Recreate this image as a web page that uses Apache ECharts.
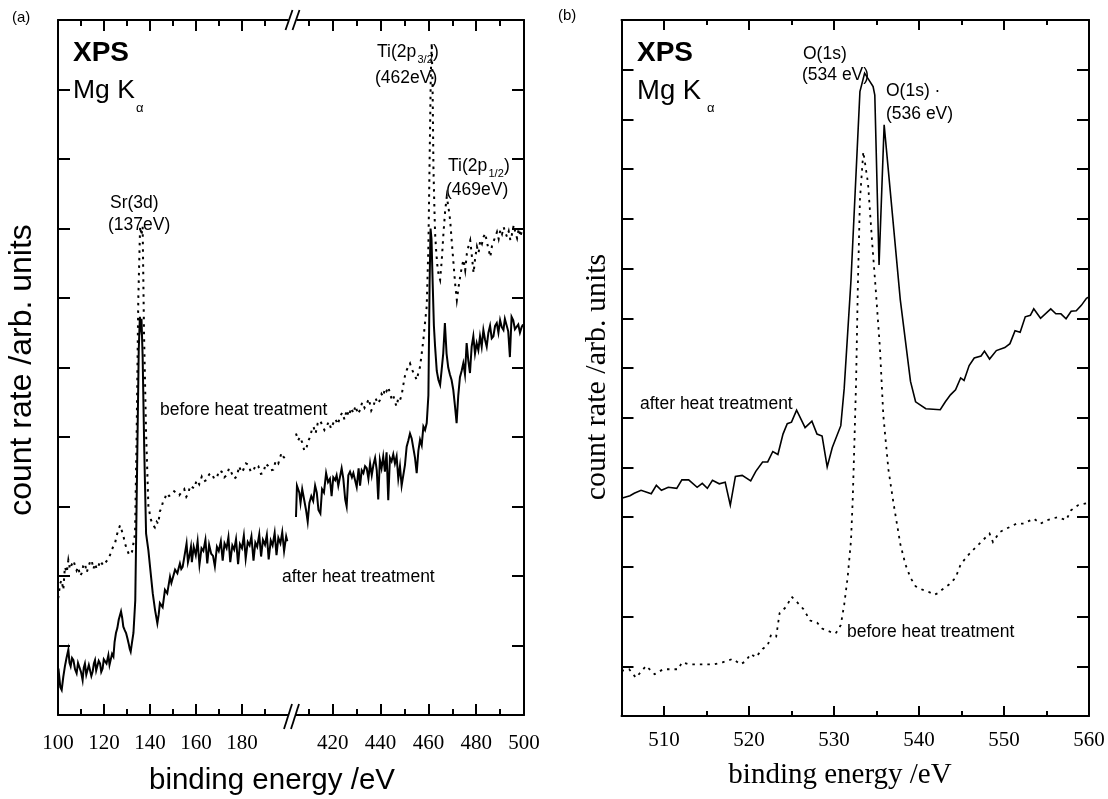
<!DOCTYPE html>
<html>
<head>
<meta charset="utf-8">
<script src="https://cdn.jsdelivr.net/npm/echarts@6/dist/echarts.min.js"></script>
<style>
html,body{margin:0;padding:0;background:#fff;}
#chart{width:1108px;height:799px;}
</style>
</head>
<body>
<div id="chart"></div>
<script>
// ---------------- DATA ----------------
// Panel (a), low-energy segment (100-200 eV): [binding energy eV, count rate arb.]
const aAfterLow = [[100.0,0.55],[100.4,0.60],[101.0,0.40],[101.6,0.36],[102.3,0.55],[103.0,0.70],[103.7,0.82],[104.5,0.94],[105.0,0.75],[105.5,0.70],[106.1,0.82],[106.7,0.79],[107.4,0.66],[108.1,0.60],[108.7,0.75],[109.3,0.74],[110.0,0.62],[110.7,0.50],[111.2,0.68],[111.7,0.74],[112.3,0.58],[112.8,0.60],[113.4,0.72],[113.9,0.70],[114.5,0.56],[115.1,0.63],[115.6,0.74],[116.1,0.79],[116.6,0.64],[117.1,0.65],[117.7,0.78],[118.3,0.74],[118.8,0.62],[119.4,0.67],[119.9,0.80],[120.4,0.81],[121.1,0.74],[121.9,0.86],[122.4,0.72],[122.9,0.74],[123.5,0.88],[124.1,0.84],[124.6,1.05],[125.2,1.18],[125.8,1.25],[126.4,1.37],[127.4,1.49],[127.9,1.40],[128.4,1.27],[129.0,1.22],[129.6,1.18],[130.2,1.10],[130.7,1.03],[131.2,0.95],[131.6,0.91],[132.2,1.05],[132.8,1.18],[133.6,1.65],[134.2,3.09],[135.1,5.25],[135.6,5.73],[135.9,5.60],[136.3,5.70],[136.8,5.16],[137.5,3.81],[138.3,2.61],[139.3,2.37],[140.3,2.04],[141.2,1.75],[142.2,1.51],[143.2,1.32],[143.8,1.45],[144.3,1.61],[145.5,1.55],[146.5,1.80],[147.5,1.75],[148.7,1.99],[149.3,1.90],[149.9,1.89],[150.9,2.09],[151.9,2.04],[152.5,2.12],[153.0,2.18],[153.6,2.10],[154.2,2.13],[155.2,2.33],[155.9,2.47],[156.5,2.20],[157.0,2.27],[157.8,2.42],
[158.2,2.20],[159.0,2.42],[159.9,2.30],[160.7,2.50],[161.5,2.16],[162.4,2.40],[163.2,2.36],[164.1,2.52],[164.9,2.18],[165.7,2.45],[166.6,2.32],[167.4,2.29],[168.2,2.14],[169.1,2.42],[169.9,2.36],[170.8,2.50],[171.6,2.22],[172.4,2.47],[173.3,2.40],[174.1,2.56],[174.9,2.20],[175.8,2.44],[176.6,2.38],[177.4,2.53],[178.3,2.17],[179.1,2.46],[180.0,2.40],[180.8,2.58],[181.6,2.25],[182.5,2.49],[183.3,2.44],[184.1,2.57],[185.0,2.22],[185.8,2.48],[186.6,2.42],[187.5,2.60],[188.3,2.28],[189.1,2.52],[190.0,2.45],[190.8,2.59],[191.6,2.24],[192.5,2.51],[193.3,2.44],[194.2,2.62],[195.0,2.30],[195.8,2.55],[196.7,2.47],[197.5,2.63],[198.3,2.36],[199.2,2.57],[199.7,2.50]];

const aBeforeLow = [[100.1,1.68],[100.9,1.89],[101.6,1.94],[102.3,1.80],[103.0,2.13],[103.8,2.05],[104.5,2.23],[105.2,2.10],[105.9,2.16],[106.7,2.22],[107.4,2.20],[108.1,2.08],[108.8,2.13],[109.6,2.00],[110.3,2.04],[111.0,2.15],[111.7,2.18],[112.5,2.05],[113.2,2.13],[113.9,2.20],[114.6,2.23],[115.4,2.10],[116.1,2.18],[116.8,2.10],[117.5,2.13],[118.3,2.22],[119.0,2.23],[119.7,2.15],[120.4,2.18],[121.2,2.20],[121.9,2.25],[122.6,2.30],[123.3,2.37],[124.0,2.42],[124.8,2.47],[125.5,2.58],[126.2,2.66],[127.0,2.73],[127.5,2.68],[128.1,2.61],[128.6,2.55],[129.1,2.47],[129.8,2.40],[130.6,2.33],[131.1,2.30],[131.6,2.28],[132.2,2.35],[132.8,2.37],[133.5,2.61],[134.2,4.05],[134.9,5.97],[135.7,7.03],[136.3,6.90],[136.8,7.03],[137.4,5.49],[138.3,4.05],[139.3,3.00],[140.4,2.81],[141.4,2.73],[142.1,2.70],[142.9,2.78],[143.6,2.75],[144.3,2.93],[145.0,2.98],[145.8,3.09],[146.5,3.12],[147.2,3.19],[148.3,3.15],[149.4,3.17],[150.5,3.22],[151.6,3.19],[152.7,3.16],[153.8,3.21],[154.9,3.25],[155.8,3.14],[156.7,3.19],[157.4,3.30],[158.1,3.29],[159.2,3.26],[160.3,3.38],[161.4,3.32],[162.5,3.43],[163.5,3.36],[164.6,3.38],[165.7,3.46],[166.8,3.48],[167.9,3.40],[169.0,3.41],[170.1,3.52],[171.2,3.50],[172.3,3.42],[173.3,3.45],[174.4,3.55],[175.5,3.48],[176.6,3.40],[177.7,3.43],[178.8,3.58],[179.7,3.49],[180.6,3.53],[181.7,3.62],[182.8,3.60],[183.8,3.50],[184.9,3.51],[186.0,3.60],[187.1,3.58],[188.2,3.47],[189.3,3.48],[190.3,3.62],[191.4,3.58],[192.5,3.52],[193.6,3.53],[194.7,3.66],[195.8,3.62],[196.5,3.70],[197.2,3.77],[197.9,3.72],[198.7,3.69],[199.7,3.72]];

// Panel (a), high-energy segment (400-500 eV)
const aAfterHigh = [[404.6,2.85],[405.0,3.30],[406.0,3.20],[406.5,3.05],[407.2,3.25],[408.0,3.10],[408.8,2.95],[409.5,2.78],[410.2,3.05],[411.0,3.15],[411.8,3.08],[412.6,3.30],[413.3,3.20],[414.0,2.95],[414.8,2.90],[415.5,3.25],[416.3,3.20],[417.2,3.48],[418.0,3.35],[418.8,3.40],[419.5,3.15],[420.2,3.42],[421.0,3.38],[421.6,3.45],[422.3,3.30],[423.0,3.32],[423.7,3.55],[424.4,3.40],[425.2,3.10],[425.8,3.00],[426.5,3.45],[427.2,3.50],[428.0,3.42],[428.6,3.48],[429.3,3.38],[430.0,3.28],[430.8,3.55],[431.4,3.30],[432.1,3.52],[432.8,3.48],[433.5,3.58],[434.2,3.55],[434.9,3.40],[435.6,3.62],[436.3,3.45],[437.0,3.60],[437.7,3.70],[438.4,3.52],[439.0,3.10],[439.7,3.67],[440.4,3.55],[441.1,3.72],[441.8,3.50],[442.5,3.78],[443.2,3.09],[443.9,3.70],[444.6,3.65],[445.3,3.75],[446.0,3.62],[446.7,3.72],[447.4,3.40],[448.1,3.58],[448.8,3.30],[449.5,3.29],[450.2,3.60],[450.9,3.86],[451.6,3.95],[452.3,4.05],[453.0,3.98],[453.7,3.96],[454.4,3.70],[455.1,3.48],[455.8,3.80],[456.5,3.96],[457.2,3.88],[457.9,4.15],[458.6,4.10],[459.3,4.20],[460.0,4.60],[460.5,6.20],[460.9,7.00],[461.3,6.85],[461.8,6.20],[462.3,5.60],[462.8,5.30],[463.5,4.95],[464.2,4.82],[464.9,4.75],[465.5,4.95],[466.2,5.20],[466.9,5.64],[467.6,5.20],[468.3,5.00],[469.0,4.90],[469.7,4.82],[470.4,4.68],[471.1,4.45],[471.8,4.20],[472.5,4.60],[473.2,4.86],[473.9,4.95],[474.6,5.06],[475.3,4.90],[476.0,5.35],[476.7,5.10],[477.4,4.92],[478.1,5.30],[478.8,5.45],[479.5,5.20],[480.2,5.35],[480.9,5.25],[481.6,5.45],[482.3,5.30],[483.0,5.54],[483.7,5.40],[484.4,5.30],[485.1,5.50],[485.8,5.60],[486.5,5.42],[487.2,5.45],[487.9,5.60],[488.6,5.64],[489.3,5.50],[490.0,5.68],[490.7,5.58],[491.4,5.54],[492.0,5.70],[492.7,5.68],[493.4,5.52],[494.1,5.15],[494.8,5.73],[495.5,5.68],[496.2,5.55],[496.9,5.54],[497.6,5.62],[498.3,5.50],[499.0,5.58],[499.6,5.62]];

const aBeforeHigh = [[404.6,4.05],[405.5,3.95],[406.3,4.00],[407.2,3.92],[408.1,3.80],[409.1,3.86],[409.8,3.95],[410.5,4.00],[411.2,4.10],[411.9,4.15],[412.8,4.05],[413.7,4.20],[414.6,4.24],[415.5,4.18],[416.5,4.10],[417.4,4.15],[418.3,4.22],[419.3,4.12],[420.2,4.20],[421.1,4.26],[422.1,4.18],[423.0,4.29],[423.9,4.35],[424.9,4.25],[425.8,4.39],[426.7,4.30],[427.7,4.42],[428.6,4.34],[429.5,4.45],[430.5,4.33],[431.4,4.39],[432.3,4.50],[433.3,4.42],[434.2,4.48],[435.1,4.55],[436.1,4.38],[437.0,4.44],[437.9,4.56],[438.8,4.48],[439.7,4.53],[440.4,4.62],[441.1,4.58],[441.8,4.70],[442.5,4.66],[443.2,4.72],[443.9,4.63],[444.6,4.55],[445.3,4.60],[446.0,4.50],[446.7,4.44],[447.4,4.56],[448.1,4.53],[448.8,4.60],[449.5,4.75],[450.2,4.88],[450.9,4.96],[451.6,5.02],[452.3,5.06],[453.0,4.98],[453.7,4.96],[454.4,4.88],[455.1,4.82],[455.8,4.92],[456.5,5.01],[457.2,5.20],[457.9,5.40],[458.6,5.65],[459.3,5.88],[460.0,6.74],[460.6,8.20],[461.0,9.20],[461.4,9.67],[461.8,8.90],[462.1,7.89],[462.5,7.30],[462.8,6.93],[463.3,6.65],[463.8,6.45],[464.3,6.33],[464.9,6.26],[465.6,6.55],[466.3,6.93],[467.0,7.25],[467.7,7.46],[468.4,7.30],[469.1,7.12],[469.8,6.80],[470.5,6.50],[471.2,6.20],[471.9,5.97],[472.6,6.15],[473.3,6.31],[474.0,6.45],[474.7,6.55],[475.4,6.40],[476.1,6.64],[476.8,6.75],[477.5,6.83],[478.2,6.60],[478.9,6.36],[479.6,6.58],[480.3,6.74],[481.0,6.65],[481.7,6.83],[482.4,6.78],[483.1,6.88],[483.8,6.93],[484.5,6.80],[485.2,6.70],[485.9,6.59],[486.6,6.75],[487.3,6.82],[488.0,6.88],[488.7,6.95],[489.4,6.85],[490.1,6.98],[490.8,6.92],[491.5,7.02],[492.2,6.94],[492.9,6.88],[493.6,6.96],[494.3,6.83],[495.0,6.92],[495.7,7.05],[496.4,6.94],[497.1,6.86],[497.8,7.00],[498.5,6.88],[499.2,6.98],[499.8,6.95]];

// Panel (b), O(1s) region (505-560 eV)
const bAfter = [[505,4.38],[506,4.43],[506.5,4.48],[507.3,4.54],[508.5,4.47],[509.1,4.64],[509.7,4.54],[510.5,4.60],[511.5,4.58],[512.1,4.75],[512.9,4.75],[513.9,4.60],[514.5,4.68],[515.1,4.58],[515.7,4.74],[516.5,4.67],[517.2,4.70],[517.8,4.24],[518.4,4.82],[519.2,4.84],[520.2,4.73],[520.8,4.92],[521.6,5.11],[522.2,5.11],[522.8,5.32],[523.4,5.26],[524.0,5.67],[524.5,5.88],[525.0,5.91],[525.6,6.15],[526.6,5.80],[527.4,5.93],[528.0,5.67],[528.6,5.63],[529.2,5.01],[529.8,5.40],[530.8,5.84],[531.2,6.59],[532.0,8.77],[533.05,12.56],[533.6,12.93],[534.6,12.66],[534.8,12.49],[535.3,9.07],[535.9,11.89],[537.8,8.37],[538.4,7.55],[539.0,6.73],[539.6,6.32],[540.8,6.18],[542.5,6.16],[543.1,6.32],[543.7,6.46],[544.3,6.56],[544.9,6.80],[545.3,6.75],[545.9,7.05],[546.5,7.20],[547.3,7.24],[547.7,7.34],[548.3,7.18],[549.1,7.35],[550.1,7.41],[550.7,7.49],[551.3,7.75],[551.9,7.72],[552.5,8.03],[553.1,8.06],[553.5,8.19],[554.3,8.00],[555.5,8.19],[556.1,8.09],[556.7,8.09],[557.3,7.99],[557.9,8.14],[558.5,8.15],[559.1,8.26],[559.7,8.40],[560,8.43]];

const bBefore = [[505,0.91],[505.9,0.94],[506.7,0.77],[507.9,1.01],[508.9,0.84],[509.9,0.94],[510.9,0.94],[511.7,0.94],[512.1,1.08],[512.9,1.04],[514.1,1.04],[514.9,1.04],[515.9,1.04],[516.9,1.08],[518.1,1.15],[519.0,1.04],[519.6,1.10],[520.2,1.25],[520.8,1.18],[521.6,1.35],[522.2,1.42],[522.6,1.64],[523.2,1.60],[523.6,2.07],[524.4,2.20],[525.0,2.40],[525.6,2.30],[526.4,2.15],[527.2,1.92],[528.0,1.88],[528.6,1.76],[529.6,1.69],[530.2,1.66],[530.8,1.83],[531.2,2.24],[531.6,2.78],[532.0,3.53],[532.2,4.34],[532.4,5.50],[532.6,6.73],[532.8,8.60],[533.05,10.38],[533.45,11.35],[534.0,10.72],[534.5,9.50],[534.9,8.60],[535.4,7.41],[535.8,6.05],[536.4,4.96],[537.0,4.28],[537.4,3.87],[537.8,3.46],[538.4,3.05],[539.0,2.78],[539.6,2.61],[540.4,2.54],[541.0,2.51],[541.8,2.44],[542.2,2.47],[542.7,2.54],[543.5,2.64],[544.3,2.78],[544.9,3.05],[545.7,3.22],[546.3,3.33],[547.3,3.50],[548.3,3.67],[548.7,3.50],[549.5,3.70],[550.3,3.77],[551.5,3.87],[552.3,3.87],[553.5,3.97],[554.3,3.87],[555.1,3.94],[556.3,4.00],[557.3,3.94],[557.9,4.14],[558.7,4.24],[559.7,4.28],[560,4.28]];

// Tick positions / labels
const aLowMajor = [120,140,160,180];
const aLowMinor = [110,130,150,170,190];
const aLowLabels = [100,120,140,160,180];
const aHighMajor = [420,440,460,480];
const aHighMinor = [410,430,450,470,490];
const aHighLabels = [420,440,460,480,500];
const bMajor = [510,520,530,540,550];
const bMinor = [515,525,535,545,555];
const bLabels = [510,520,530,540,550,560];

// ---------------- CHART ----------------
const SANS = "'Liberation Sans', Arial, Helvetica, sans-serif";
const SERIF = "'Liberation Serif', 'Times New Roman', serif";
const BLACK = '#000';

const grids = [
  {left: 58, top: 20, width: 230, height: 695},
  {left: 285, top: 20, width: 239, height: 695},
  {left: 621.5, top: 20, width: 467.5, height: 696}
];

function xAx(grid, min, max, pos, ticks, len, labels, showLine, margin) {
  return {
    type: 'value', gridIndex: grid, min: min, max: max, position: pos,
    axisLine: {show: showLine, onZero: false, lineStyle: {color: BLACK, width: 2}},
    axisTick: {show: true, inside: true, length: len, customValues: ticks, lineStyle: {color: BLACK, width: 2}},
    axisLabel: labels ? {show: true, customValues: labels, margin: margin, color: BLACK, fontFamily: SERIF, fontSize: 21} : {show: false},
    splitLine: {show: false}
  };
}
function yAx(grid, max, pos) {
  return {
    type: 'value', gridIndex: grid, min: 0, max: max, interval: 1, position: pos,
    axisLine: {show: true, onZero: false, lineStyle: {color: BLACK, width: 2}},
    axisTick: {show: true, inside: true, length: 12, lineStyle: {color: BLACK, width: 2}},
    axisLabel: {show: false},
    splitLine: {show: false}
  };
}

const xAxes = [
  xAx(0, 100, 200, 'bottom', aLowMajor, 11, aLowLabels, true, 18),
  xAx(0, 100, 200, 'bottom', aLowMinor, 6, null, false),
  xAx(0, 100, 200, 'top', aLowMajor, 11, null, true),
  xAx(0, 100, 200, 'top', aLowMinor, 6, null, false),
  xAx(1, 400, 500, 'bottom', aHighMajor, 11, aHighLabels, true, 18),
  xAx(1, 400, 500, 'bottom', aHighMinor, 6, null, false),
  xAx(1, 400, 500, 'top', aHighMajor, 11, null, true),
  xAx(1, 400, 500, 'top', aHighMinor, 6, null, false),
  xAx(2, 505, 560, 'bottom', bMajor, 10, bLabels, true, 14),
  xAx(2, 505, 560, 'bottom', bMinor, 5, null, false),
  xAx(2, 505, 560, 'top', bMajor, 10, null, true),
  xAx(2, 505, 560, 'top', bMinor, 5, null, false)
];
const yAxes = [yAx(0, 10, 'left'), yAx(1, 10, 'right'), yAx(2, 14, 'left'), yAx(2, 14, 'right')];

function line(name, data, xi, yi, dashed, w) {
  return {
    name: name, type: 'line', data: data, xAxisIndex: xi, yAxisIndex: yi,
    showSymbol: false, symbol: 'none', smooth: false, animation: false,
    lineStyle: {color: BLACK, width: w, type: dashed ? [2.5, 5] : 'solid', cap: 'butt', join: 'miter'},
    z: 3
  };
}
const series = [
  line('after heat treatment', aAfterLow, 0, 0, false, 2),
  line('before heat treatment', aBeforeLow, 0, 0, true, 2),
  line('after heat treatment', aAfterHigh, 4, 1, false, 2),
  line('before heat treatment', aBeforeHigh, 4, 1, true, 2),
  line('after heat treatment', bAfter, 8, 2, false, 1.6),
  line('before heat treatment', bBefore, 8, 2, true, 1.8)
];

function txt(x, y, text, size, o) {
  o = o || {};
  return {
    type: 'text', x: x, y: y, z: 100, rotation: o.rot || 0,
    style: {
      text: text, fontSize: size, fontFamily: o.family || SANS, fontWeight: o.weight || 'normal',
      fill: BLACK, align: o.align || 'left', verticalAlign: 'middle',
      textAlign: o.align || 'left', textVerticalAlign: 'middle'
    }
  };
}
function seg(x1, y1, x2, y2) {
  return {type: 'line', z: 101, shape: {x1: x1, y1: y1, x2: x2, y2: y2}, style: {stroke: BLACK, lineWidth: 1.8}};
}
function white(x, y, w, h) {
  return {type: 'rect', z: 99, shape: {x: x, y: y, width: w, height: h}, style: {fill: '#fff'}};
}
const L = 17.5;
const graphics = [
  // panel labels
  txt(12, 18, '(a)', 15), txt(558, 16, '(b)', 15),
  // panel (a)
  txt(73, 53, 'XPS', 28, {weight: 'bold'}),
  txt(73, 91, 'Mg K', 26.5), txt(136, 108, 'α', 13),
  txt(110, 203, 'Sr(3d)', L), txt(108, 225, '(137eV)', L),
  txt(377, 52, 'Ti(2p', L), txt(417.5, 60, '3/2', 11), txt(433, 52, ')', L), txt(375, 78, '(462eV)', L),
  txt(448, 166, 'Ti(2p', L), txt(488.5, 174, '1/2', 11), txt(504, 166, ')', L), txt(446, 190, '(469eV)', L),
  txt(160, 410, 'before heat treatment', L),
  txt(282, 577, 'after heat treatment', L),
  txt(22, 370, 'count rate /arb. units', 32, {align: 'center', rot: Math.PI / 2}),
  txt(272, 781, 'binding energy /eV', 29.5, {align: 'center'}),
  // axis break marks
  white(288.5, 16, 8, 8), seg(285.5, 30, 292.5, 10), seg(292.5, 30, 299.5, 10),
  white(288, 711, 8, 8), seg(284, 729, 292, 704), seg(291, 729, 299, 704),
  // panel (b)
  txt(637, 53, 'XPS', 28, {weight: 'bold'}),
  txt(637, 91, 'Mg K', 27.5), txt(707, 108, 'α', 13),
  txt(803, 54, 'O(1s)', L), txt(802, 75, '(534 eV)', L),
  txt(886, 91, 'O(1s) ·', L), txt(886, 114, '(536 eV)', L),
  txt(640, 404, 'after heat treatment', L),
  txt(847, 632, 'before heat treatment', L),
  txt(597, 377, 'count rate /arb. units', 30, {align: 'center', rot: Math.PI / 2, family: SERIF}),
  txt(840, 775, 'binding energy /eV', 29, {align: 'center', family: SERIF})
];

const chart = echarts.init(document.getElementById('chart'), null, {renderer: 'canvas'});
chart.setOption({
  backgroundColor: '#fff',
  animation: false,
  grid: grids,
  xAxis: xAxes,
  yAxis: yAxes,
  series: series,
  graphic: {elements: graphics}
});
</script>
</body>
</html>
